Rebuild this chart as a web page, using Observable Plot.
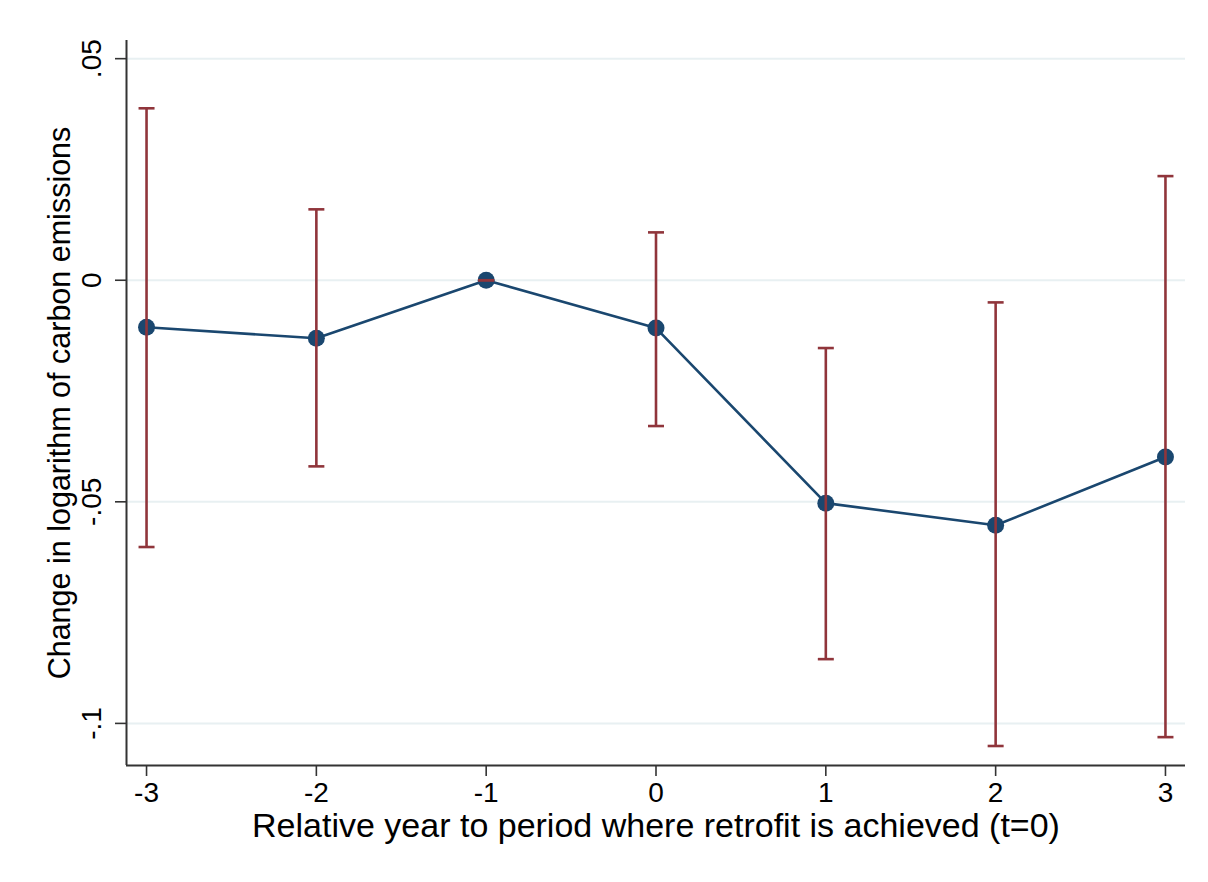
<!DOCTYPE html>
<html>
<head>
<meta charset="utf-8">
<script src="https://cdn.jsdelivr.net/npm/d3@7"></script>
<script src="https://cdn.jsdelivr.net/npm/@observablehq/plot@0.6"></script>
<style>
  html, body { margin: 0; padding: 0; background: #ffffff; }
  #chart { width: 1208px; height: 882px; }
  svg { font-family: "Liberation Sans", Arial, sans-serif; }
</style>
</head>
<body>
<div id="chart"></div>
<script>
// Relative year to retrofit (t=0)
const years = [-3, -2, -1, 0, 1, 2, 3];
// Point estimates
const coef = [-0.0106, -0.0131, 0, -0.0108, -0.0503, -0.0553, -0.0399];
// 95% CI bounds
const ciLow = [-0.0602, -0.0420, 0, -0.0329, -0.0855, -0.1051, -0.1031];
const ciHigh = [0.0388, 0.0160, 0, 0.0108, -0.0153, -0.0050, 0.0235];

const yTicks = [0.05, 0, -0.05, -0.1];
const yTickLabels = [".05", "0", "-.05", "-.1"];
const xTicks = [-3, -2, -1, 0, 1, 2, 3];
const xTickLabels = ["-3", "-2", "-1", "0", "1", "2", "3"];

const xTitle = "Relative year to period where retrofit is achieved (t=0)";
const yTitle = "Change in logarithm of carbon emissions";

const xDomain = [-3.118, 3.118];
const yDomain = [-0.1095, 0.0541];

const data = years.map((t, i) => ({t, b: coef[i], lo: ciLow[i], hi: ciHigh[i]}));
const yTickData = yTicks.map((v, i) => ({v, label: yTickLabels[i]}));
const xTickData = xTicks.map((v, i) => ({v, label: xTickLabels[i]}));

const navy = "#1a476f";
const maroon = "#90353b";
const axisColor = "#333333";

const capSymbol = {
  draw(context, size) {
    const w = Math.sqrt(size / Math.PI);
    context.moveTo(-w, 0);
    context.lineTo(w, 0);
  }
};

const chart = Plot.plot({
  width: 1208,
  height: 882,
  marginLeft: 126,
  marginRight: 23,
  marginTop: 40,
  marginBottom: 117,
  style: {background: "#ffffff", fontFamily: "Liberation Sans, Arial, sans-serif", color: "#000"},
  x: {domain: xDomain, axis: null},
  y: {domain: yDomain, axis: null},
  marks: [
    Plot.ruleY(yTicks, {stroke: "#e8f0f2", strokeWidth: 2}),
    Plot.axisY({ticks: yTicks, tickSize: 11, tickFormat: () => "", stroke: axisColor, strokeWidth: 1.6, label: null}),
    Plot.axisX({ticks: xTicks, tickSize: 11, tickFormat: () => "", stroke: axisColor, strokeWidth: 1.6, label: null}),
    Plot.text(yTickData, {y: "v", text: "label", frameAnchor: "left", textAnchor: "middle", dx: -34, rotate: -90, fontSize: 28, fill: "#000"}),
    Plot.text(xTickData, {x: "v", text: "label", frameAnchor: "bottom", textAnchor: "middle", dy: 36, fontSize: 28, fill: "#000"}),
    Plot.ruleX([xDomain[0]], {stroke: axisColor, strokeWidth: 2}),
    Plot.ruleY([yDomain[0]], {stroke: axisColor, strokeWidth: 2}),
    Plot.line(data, {x: "t", y: "b", stroke: navy, strokeWidth: 2.6}),
    Plot.dot(data, {x: "t", y: "b", r: 8.5, fill: navy, stroke: null}),
    Plot.link(data, {x1: "t", x2: "t", y1: "lo", y2: "hi", stroke: maroon, strokeWidth: 2.6}),
    Plot.dot(data, {x: "t", y: "hi", symbol: capSymbol, r: 8, stroke: maroon, strokeWidth: 2.6, fill: "none"}),
    Plot.dot(data, {x: "t", y: "lo", symbol: capSymbol, r: 8, stroke: maroon, strokeWidth: 2.6, fill: "none"}),
    Plot.text([xTitle], {frameAnchor: "bottom", textAnchor: "middle", dy: 71, fontSize: 34, fill: "#000"}),
    Plot.text([yTitle], {frameAnchor: "left", textAnchor: "middle", dx: -66, rotate: -90, fontSize: 30.5, fill: "#000"})
  ]
});

document.getElementById("chart").appendChild(chart);
</script>
</body>
</html>
